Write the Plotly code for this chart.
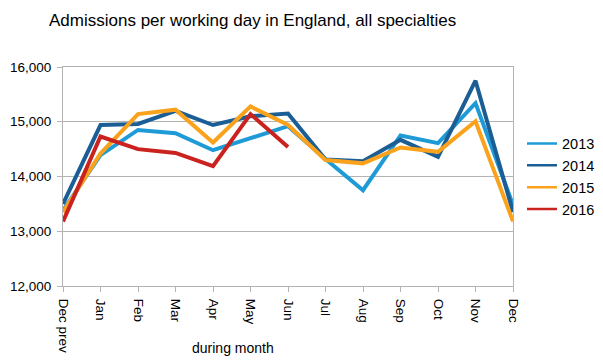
import plotly.graph_objects as go

tick_text = ["Dec prev", "Jan", "Feb", "Mar", "Apr", "May", "Jun", "Jul", "Aug", "Sep", "Oct", "Nov", "Dec"]

y2013 = [13380, 14390, 14850, 14790, 14480, 14700, 14920, 14320, 13750, 14750, 14610, 15340, 13480]
y2014 = [13500, 14940, 14960, 15200, 14940, 15100, 15150, 14310, 14280, 14670, 14360, 15750, 13350]
y2015 = [13350, 14420, 15140, 15220, 14620, 15280, 14940, 14300, 14240, 14530, 14450, 15010, 13180]
y2016 = [13180, 14730, 14500, 14430, 14190, 15140, 14540]

series = [
    ("2013", y2013, "#1e9bd7"),
    ("2014", y2014, "#1b5e96"),
    ("2015", y2015, "#faa21b"),
    ("2016", y2016, "#c9221f"),
]

OFF = 8  # page body offset
W, H = 603 - OFF, 361 - OFF
L, T, R, B = 63 - OFF, 67 - OFF, 90, 75
PW, PH = W - L - R, H - T - B

fig = go.Figure()
for name, vals, color in series:
    fig.add_trace(go.Scatter(
        x=list(range(len(vals))), y=vals, name=name, mode="lines",
        line=dict(color=color, width=4), showlegend=False,
    ))
# legend-only entries with thinner lines, as in the reference
for name, vals, color in series:
    fig.add_trace(go.Scatter(
        x=[None], y=[None], name=name, mode="lines",
        line=dict(color=color, width=2.5), showlegend=True,
    ))

fig.update_layout(
    width=W, height=H,
    margin=dict(l=L, r=R, t=T, b=B, autoexpand=False),
    paper_bgcolor="white", plot_bgcolor="white",
    font=dict(family="Liberation Sans, Arial, sans-serif", size=12, color="black"),
    title=dict(text="Admissions per working day in England, all specialties",
               x=(49 - OFF) / W, xanchor="left", y=1 - (20 - OFF) / H, yanchor="middle",
               font=dict(size=17, color="black")),
    legend=dict(x=1.02, xanchor="left", y=0.5, yanchor="middle",
                font=dict(size=14.5), tracegroupgap=0, itemwidth=30),
    annotations=[dict(text="during month", xref="paper", yref="paper",
                      x=(233 - 63) / PW, y=-(348 - 286) / PH,
                      xanchor="center", yanchor="middle", showarrow=False,
                      font=dict(size=14))],
)
fig.update_xaxes(
    range=[0, 12], tickmode="array", tickvals=list(range(13)), ticktext=tick_text,
    tickangle=90, showgrid=False, showline=True, linecolor="#b3b3b3", mirror=True,
    ticks="outside", ticklen=5, tickcolor="#b3b3b3", zeroline=False,
    tickfont=dict(size=13.5), automargin=False, ticklabelstandoff=4,
)
fig.update_yaxes(
    range=[12000, 16000], tickvals=[12000, 13000, 14000, 15000, 16000],
    tickformat=",d", showgrid=True, gridcolor="#b3b3b3", showline=True,
    linecolor="#b3b3b3", mirror=True, ticks="outside", ticklen=5, tickcolor="#b3b3b3",
    zeroline=False, tickfont=dict(size=13.5), automargin=False, ticklabelstandoff=3,
)

fig.write_html("out.html")
